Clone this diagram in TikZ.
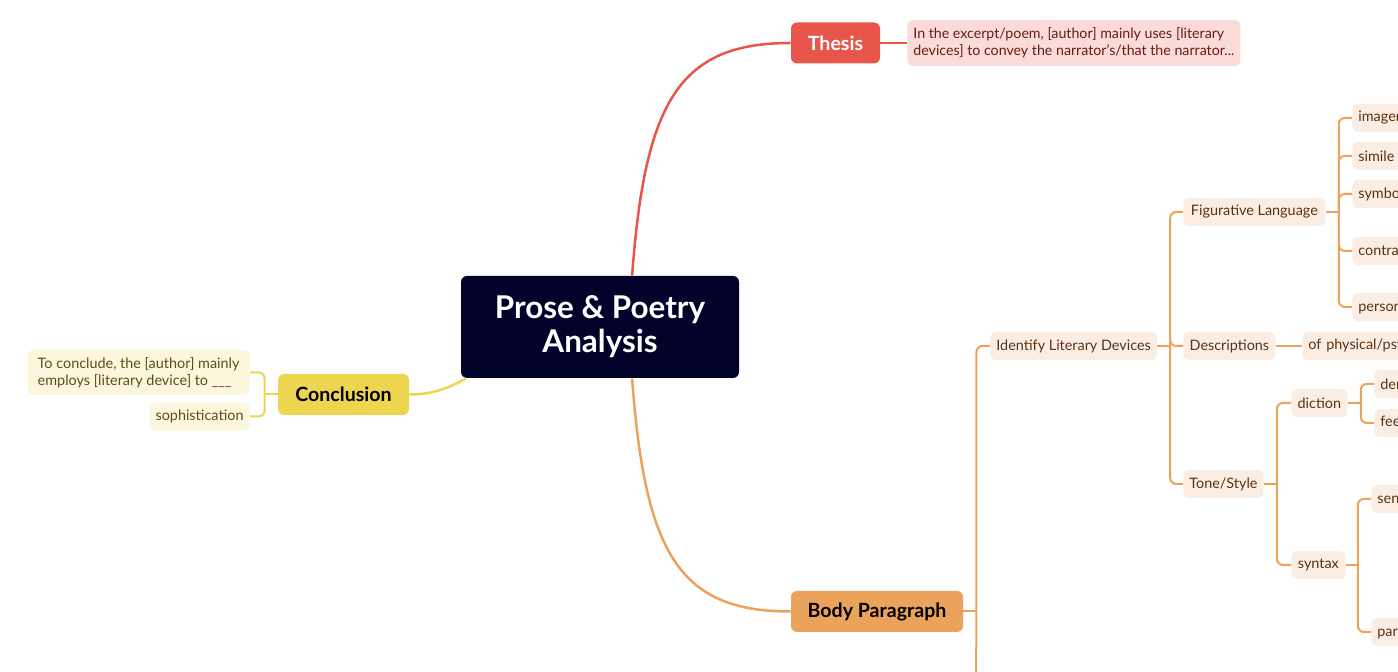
\documentclass[tikz,border=0pt]{standalone}
\usepackage{fontspec}
\setmainfont{Lato}
\usepackage{tikz}
\usetikzlibrary{positioning,calc}
\definecolor{rootfill}{HTML}{02022A}
\definecolor{thred}{HTML}{E8554A}
\definecolor{thleaf}{HTML}{FADBD8}
\definecolor{thtext}{HTML}{6B1A14}
\definecolor{bodyorg}{HTML}{EBA35C}
\definecolor{bodyleaf}{HTML}{FBEDE2}
\definecolor{bodytext}{HTML}{5A3214}
\definecolor{conylw}{HTML}{EDD550}
\definecolor{conleaf}{HTML}{FCF6DC}
\definecolor{context}{HTML}{5A4E1C}

\begin{document}
\begin{tikzpicture}[x=0.5pt,y=-0.5pt,
    root/.style={fill=rootfill,text=white,rounded corners=3pt,minimum width=139pt,minimum height=51pt,align=center,font=\fontsize{15.7}{17}\selectfont\bfseries},
    topic/.style={rounded corners=3pt,minimum height=20.5pt,font=\fontsize{9.8}{11}\selectfont\bfseries},
    leaf/.style={rounded corners=2.5pt,minimum height=14pt,inner xsep=3pt,font=\fontsize{7.2}{8.5}\selectfont},
    oleaf/.style={leaf,anchor=west,fill=bodyleaf,text=bodytext},
    cutleaf/.style={oleaf,text width=60pt,align=left},
    olink/.style={draw=bodyorg,line width=1pt},
    ylink/.style={draw=conylw,line width=1pt}]
    \useasboundingbox (0,0) rectangle (1398,672);
    \clip (0,0) rectangle (1398,672);

    \node[root] (root) at (600,327) {Prose \& Poetry\\Analysis};

    % Thesis
    \node[topic,fill=thred,text=white,minimum width=44.5pt] (thesis) at (835.5,43) {Thesis};
    \node[leaf,anchor=west,fill=thleaf,text=thtext,minimum height=23pt,align=left,font=\fontsize{7.1}{8.5}\selectfont] (thtxt) at (907,43) {In the excerpt/poem, [author] mainly uses [literary\\devices] to convey the narrator's/that the narrator...};
    \draw[thred,line width=1.25pt] (root.58) .. controls (645,100) and (680,43) .. (thesis.west);
    \draw[thred,line width=1pt] (thesis.east) -- (thtxt.west);

    % Conclusion
    \node[topic,fill=conylw,text=black,minimum width=65.5pt] (concl) at (343.5,394.5) {Conclusion};
    \node[leaf,anchor=east,fill=conleaf,text=context,minimum width=111pt,minimum height=22.5pt,align=left] (cc1) at (250,372.5) {To conclude, the [author] mainly\\employs [literary device] to \_\_\_};
    \node[leaf,anchor=east,fill=conleaf,text=context,minimum width=50pt] (cc2) at (250,416.5) {sophistication};
    \draw[conylw,line width=1.25pt] (root.201) .. controls (445,390) and (430,394.5) .. (concl.east);
    \draw[ylink] (concl.west) -- ++(-13,0) coordinate (cj);
    \draw[ylink,rounded corners=3pt] (cj) |- (cc1.east);
    \draw[ylink,rounded corners=3pt] (cj) |- (cc2.east);

    % Body Paragraph
    \node[topic,fill=bodyorg,text=black,minimum width=86pt] (body) at (877,611.5) {Body Paragraph};
    \draw[bodyorg,line width=1.25pt] (root.-58) .. controls (645,555) and (680,611.5) .. (body.west);
    \node[oleaf,minimum width=83pt] (ild) at (990,346) {Identify Literary Devices};
    \coordinate (bodyoff) at (976,700);
    \draw[olink] (body.east) -- ++(13,0) coordinate (bj);
    \draw[olink,rounded corners=3pt] (bj) |- (ild.west);
    \draw[olink] (bj) -- (bodyoff);

    % literary devices
    \node[oleaf,minimum width=71pt] (fig) at (1183,212) {Figurative Language};
    \node[oleaf,minimum width=46pt] (desc) at (1183,346) {Descriptions};
    \node[oleaf,minimum width=40pt] (tone) at (1183,484) {Tone/Style};
    \draw[olink] (ild.east) -- ++(13,0) coordinate (ij);
    \foreach \n in {fig,desc,tone}
        \draw[olink,rounded corners=3pt] (ij) |- (\n.west);

    % figurative language
    \node[cutleaf] (img) at (1352,118) {imagery};
    \node[cutleaf] (sim) at (1352,156) {simile};
    \node[cutleaf] (sym) at (1352,194) {symbolism};
    \node[cutleaf] (con) at (1352,251) {contrast};
    \node[cutleaf] (pers) at (1352,307) {personification};
    \draw[olink] (fig.east) -- ++(13,0) coordinate (fj);
    \foreach \n in {img,sim,sym,con,pers}
        \draw[olink,rounded corners=3pt] (fj) |- (\n.west);

    % descriptions
    \node[cutleaf,text width=110pt] (phys) at (1302,346) {of physical/psychological};
    \draw[olink] (desc.east) -- (phys.west);

    % tone/style
    \node[oleaf,minimum width=28pt] (dic) at (1291,403) {diction};
    \node[oleaf,minimum width=27pt] (syn) at (1291,565) {syntax};
    \draw[olink] (tone.east) -- ++(13,0) coordinate (tj);
    \foreach \n in {dic,syn}
        \draw[olink,rounded corners=3pt] (tj) |- (\n.west);

    \node[cutleaf] (den) at (1374,384) {denotation};
    \node[cutleaf] (feel) at (1374,423) {feeling};
    \draw[olink] (dic.east) -- ++(13,0) coordinate (dj);
    \foreach \n in {den,feel}
        \draw[olink,rounded corners=3pt] (dj) |- (\n.west);

    \node[cutleaf] (sent) at (1371,499) {sentence};
    \node[cutleaf] (par) at (1371,632) {parallelism};
    \draw[olink] (syn.east) -- ++(12,0) coordinate (sj);
    \foreach \n in {sent,par}
        \draw[olink,rounded corners=3pt] (sj) |- (\n.west);
\end{tikzpicture}
\end{document}
